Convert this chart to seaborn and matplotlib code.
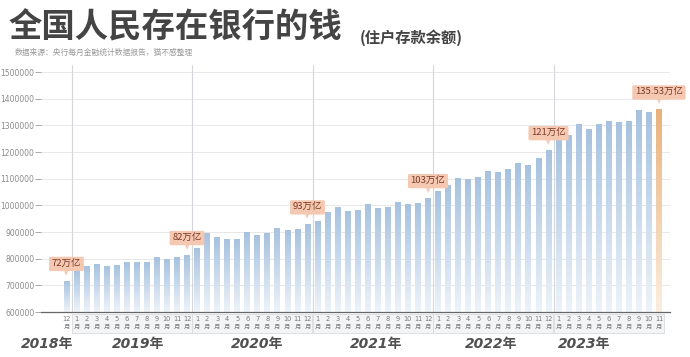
import numpy as np
import pandas as pd
import seaborn as sns
import matplotlib.pyplot as plt
from matplotlib.patches import Rectangle
from matplotlib.colors import to_rgb
import matplotlib.transforms as mtransforms

# 住户存款余额（亿元），2018年12月 - 2023年11月
dep_2018 = [718000]
dep_2019 = [756000, 773600, 781000, 773600, 776000, 787500, 787500, 787500, 804700, 798700, 804700, 815000]
dep_2020 = [842000, 897000, 879900, 872400, 875500, 898700, 889900, 896000, 913600, 906100, 909900, 930000]
dep_2021 = [942400, 976000, 994900, 979900, 981000, 1005000, 991000, 994900, 1012500, 1005000, 1010000, 1028600]
dep_2022 = [1053600, 1077400, 1104000, 1097500, 1104900, 1129900, 1126100, 1137400, 1158700, 1152400, 1176100, 1208600]
dep_2023 = [1252500, 1262400, 1306100, 1287400, 1306100, 1318600, 1313600, 1317400, 1358600, 1351100, 1361100]

years = ['2018年', '2019年', '2020年', '2021年', '2022年', '2023年']
year_months = [[12], list(range(1, 13)), list(range(1, 13)), list(range(1, 13)), list(range(1, 13)), list(range(1, 12))]

callout_idx = [0, 12, 24, 36, 48, 59]
callout_text = ['72万亿', '82万亿', '93万亿', '103万亿', '121万亿', '135.53万亿']

values = dep_2018 + dep_2019 + dep_2020 + dep_2021 + dep_2022 + dep_2023
periods, month_nums = [], []
for y, ms in zip(years, year_months):
    for m in ms:
        periods.append(f'{y}{m:02d}')
        month_nums.append(m)
df = pd.DataFrame({'period': periods, 'deposit': values})

sns.set_theme(style='white')
plt.rcParams['font.family'] = ['Noto Sans CJK SC', 'DejaVu Sans']

fig = plt.figure(figsize=(6.9, 3.57), dpi=100)
ax = fig.add_axes([0.06, 0.126, 0.911, 0.692])

ax = sns.barplot(data=df, x='period', y='deposit', color='#a9c4e0', width=0.58, ax=ax, zorder=3)

YMIN, YMAX = 600000, 1527000
XMIN, XMAX = -2.5, 60.1

# year background bands and dividers
for a, b in [(XMIN, 0.5), (12.5, 24.5), (36.5, 48.5)]:
    ax.axvspan(a, b, color='#eef1f6', zorder=0, lw=0)
for xv in [0.5, 12.5, 24.5, 36.5, 48.5]:
    ax.axvline(xv, color='#d3d6db', lw=0.8, zorder=1)
ax.axvline(XMAX, color='#e2e2e2', lw=0.8, zorder=1)

# gradient fill for bars
grad = np.linspace(0, 1, 64)
for i, p in enumerate(ax.patches):
    last = i == len(values) - 1
    top = to_rgb('#e9b27c') if last else to_rgb('#a7c2df')
    bot = to_rgb('#fbeee0') if last else to_rgb('#edf3f9')
    img = np.zeros((64, 1, 3))
    for c in range(3):
        img[:, 0, c] = bot[c] + (top[c] - bot[c]) * grad
    x0, w, h = p.get_x(), p.get_width(), p.get_height()
    im = ax.imshow(img, extent=[x0, x0 + w, YMIN, h], origin='lower',
                   aspect='auto', zorder=3)
    im.set_clip_path(p)
    p.set_facecolor('none')
    p.set_edgecolor('none')

ax.set_xlim(XMIN, XMAX)
ax.set_ylim(YMIN, YMAX)

# grid and axes
ax.set_yticks(np.arange(600000, 1500001, 100000))
ax.set_yticklabels([str(v) for v in range(600000, 1500001, 100000)],
                   fontsize=5.5, color='#8a8a8a', family='DejaVu Sans')
ax.yaxis.grid(True, color='#e4e4e4', lw=0.6, zorder=1)
ax.tick_params(axis='y', left=True, length=4, width=0.6, color='#9a9a9a', pad=1)
for s in ['top', 'right', 'left']:
    ax.spines[s].set_visible(False)
ax.spines['bottom'].set_color('#666666')
ax.spines['bottom'].set_linewidth(0.9)
ax.spines['bottom'].set_zorder(5)

ax.set_xticks(range(len(values)))
ax.set_xticklabels([])
ax.tick_params(axis='x', bottom=False)
ax.set_xlabel('')
ax.set_ylabel('')

trans = mtransforms.blended_transform_factory(ax.transData, ax.transAxes)

# month labels: number on top, 月 below
for i, m in enumerate(month_nums):
    ax.text(i, -0.03, str(m), transform=trans, ha='center', va='center',
            fontsize=4.8, color='#7a7a7a', family='DejaVu Sans')
    ax.text(i, -0.062, '月', transform=trans, ha='center', va='center',
            fontsize=4.6, color='#7a7a7a')

# month label boxes per year
start = 0
for ms in year_months:
    n = len(ms)
    if start > 0:
        ax.add_patch(Rectangle((start - 0.48, -0.084), n - 0.04, 0.078, transform=trans,
                               facecolor='#f3f4f6', edgecolor='#d9dbde', lw=0.6,
                               clip_on=False, zorder=0))
    start += n

# year labels
year_x = [-1.9, 7.1, 19.0, 30.8, 42.3, 51.5]
for x, y in zip(year_x, years):
    ax.text(x, -0.13, y, transform=trans, ha='center', va='center',
            fontsize=10, fontweight='bold', fontstyle='italic', color='#505050',
            family=['DejaVu Sans', 'Noto Sans CJK SC'])

# callouts
for i, t in zip(callout_idx, callout_text):
    v = values[i]
    ax.annotate(t, xy=(i, v), xytext=(0, 12), textcoords='offset points',
                ha='center', va='center', fontsize=6.8, color='#7b3a26',
                bbox=dict(boxstyle='round,pad=0.28,rounding_size=0.15',
                          fc='#f5c8b2', ec='none'), zorder=6)
    ax.annotate('▼', xy=(i, v), xytext=(0, 5.2), textcoords='offset points',
                ha='center', va='center', fontsize=4, color='#f5c8b2',
                family='DejaVu Sans', zorder=6)

# titles
fig.text(0.012, 0.922, '全国人民存在银行的钱', fontsize=24, fontweight='bold',
         color='#444444', ha='left', va='center')
fig.text(0.522, 0.895, '(住户存款余额)', fontsize=11, fontweight='bold',
         color='#444444', ha='left', va='center')
fig.text(0.022, 0.853, '数据来源：央行每月金融统计数据报告，猫不感整理', fontsize=5.6,
         color='#9a9a9a', ha='left', va='center')

fig.savefig('out.png', dpi=100, facecolor='white')
